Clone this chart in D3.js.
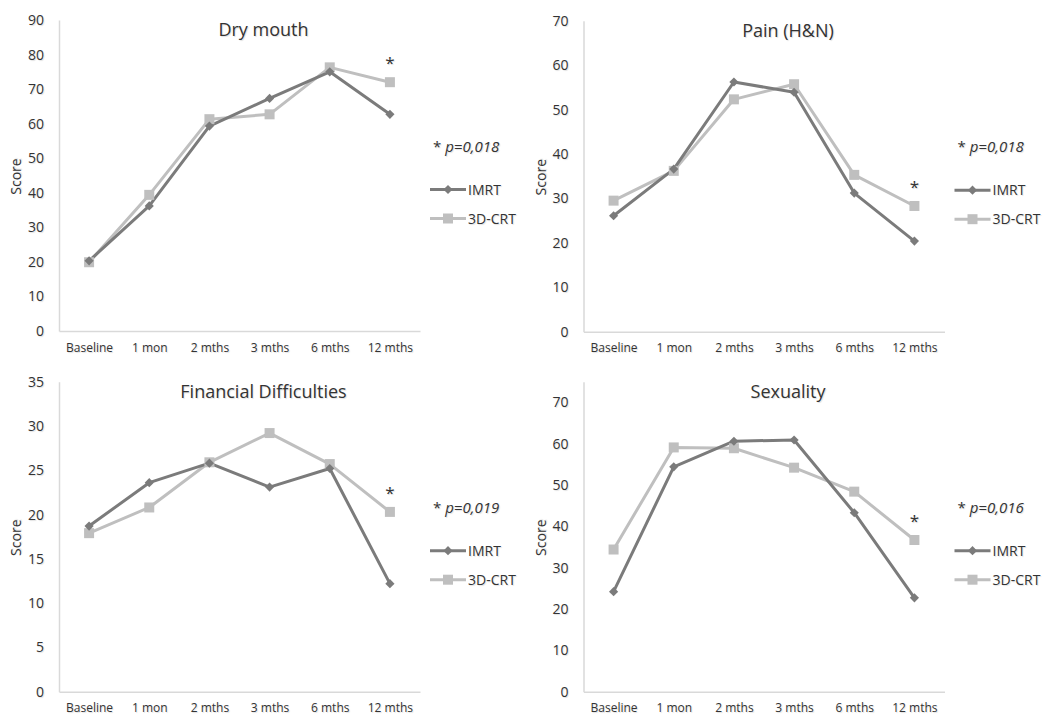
<!DOCTYPE html>
<html>
<head>
<meta charset="utf-8">
<script src="https://cdn.jsdelivr.net/npm/d3@7"></script>
<style>
  body { margin: 0; background: #fff; }
  svg text { font-family: "Open Sans", "Noto Sans", sans-serif; text-shadow: 1px 1px 1px rgba(0,0,0,0.12); }
</style>
</head>
<body>
<div id="chart"></div>
<script>
// Zaman noktaları
const categories = ['Baseline', '1 mon', '2 mths', '3 mths', '6 mths', '12 mths'];
const seriesNames = ['IMRT', '3D-CRT'];

// Dry mouth
const dryMouthIMRT = [20.3, 36.2, 59.3, 67.3, 75.0, 62.7];
const dryMouth3D = [19.9, 39.4, 61.3, 62.7, 76.3, 72.0];

// Pain (H&N)
const painIMRT = [26.1, 36.6, 56.2, 53.9, 31.2, 20.4];
const pain3D = [29.5, 36.2, 52.3, 55.7, 35.3, 28.3];

// Financial Difficulties
const financeIMRT = [18.7, 23.6, 25.8, 23.1, 25.2, 12.2];
const finance3D = [17.9, 20.8, 25.9, 29.2, 25.7, 20.3];

// Sexuality
const sexIMRT = [24.2, 54.4, 60.6, 60.9, 43.3, 22.7];
const sex3D = [34.4, 59.1, 58.9, 54.2, 48.4, 36.7];

// Panel başlıkları, p değerleri, eksen ayarları
const titles = ['Dry mouth', 'Pain (H&N)', 'Financial Difficulties', 'Sexuality'];
const pValues = ['p=0,018', 'p=0,018', 'p=0,019', 'p=0,016'];
const yMax = [90, 70, 35, 75];
const yTicks = [
  [0, 10, 20, 30, 40, 50, 60, 70, 80, 90],
  [0, 10, 20, 30, 40, 50, 60, 70],
  [0, 5, 10, 15, 20, 25, 30, 35],
  [0, 10, 20, 30, 40, 50, 60, 70]
];

const width = 1045;
const height = 717;

const colors = { 'IMRT': '#7b7b7b', '3D-CRT': '#bfbfbf' };

const svg = d3.select('#chart')
  .append('svg')
  .attr('width', width)
  .attr('height', height);

// Panel yerleşimi
const panels = [
  { left: 59, top: 20, bottom: 331, titleY: 36, series: [dryMouthIMRT, dryMouth3D] },
  { left: 583.5, top: 20.7, bottom: 331.7, titleY: 37, series: [painIMRT, pain3D] },
  { left: 59, top: 381.7, bottom: 691.7, titleY: 398, series: [financeIMRT, finance3D] },
  { left: 583.5, top: 381.7, bottom: 691.7, titleY: 398, series: [sexIMRT, sex3D] }
];
const plotW = 361;

panels.forEach((p, i) => {
  const g = svg.append('g');

  const x = d3.scalePoint()
    .domain(categories)
    .range([p.left, p.left + plotW])
    .padding(0.5);

  const y = d3.scaleLinear()
    .domain([0, yMax[i]])
    .range([p.bottom, p.top]);

  // Y ekseni
  const yAxis = g.append('g')
    .attr('transform', `translate(${p.left},0)`)
    .call(d3.axisLeft(y).tickValues(yTicks[i]).tickSize(0).tickPadding(15));
  yAxis.select('.domain').attr('stroke', '#d9d9d9').attr('stroke-width', 1.5);
  yAxis.selectAll('text')
    .attr('fill', '#333')
    .style('font-size', '14px');

  // X ekseni
  const xAxis = g.append('g')
    .attr('transform', `translate(0,${p.bottom})`)
    .call(d3.axisBottom(x).tickSize(0).tickPadding(12));
  xAxis.select('.domain').attr('stroke', '#d9d9d9').attr('stroke-width', 1.5);
  xAxis.selectAll('text')
    .attr('fill', '#333')
    .style('font-size', '12px');

  // Başlık
  g.append('text')
    .attr('x', p.left + plotW / 2 + 24)
    .attr('y', p.titleY)
    .attr('text-anchor', 'middle')
    .attr('fill', '#333')
    .style('font-size', '18px')
    .text(titles[i]);

  // Score etiketi
  g.append('text')
    .attr('transform', `translate(${p.left - 38},${(p.top + p.bottom) / 2 + 1}) rotate(-90)`)
    .attr('text-anchor', 'middle')
    .attr('fill', '#333')
    .style('font-size', '14px')
    .text('Score');

  // Seriler
  const line = d3.line()
    .x((d, k) => x(categories[k]))
    .y(d => y(d));

  // önce açık renk, sonra koyu çizilir
  [1, 0].forEach(s => {
    const vals = p.series[s];
    const name = seriesNames[s];
    g.append('path')
      .datum(vals)
      .attr('fill', 'none')
      .attr('stroke', colors[name])
      .attr('stroke-width', 3)
      .attr('stroke-linejoin', 'round')
      .attr('d', line);
  });
  [1, 0].forEach(s => {
    const vals = p.series[s];
    const name = seriesNames[s];
    g.append('g')
      .selectAll('path')
      .data(vals)
      .enter()
      .append('path')
      .attr('d', d3.symbol().type(d3.symbolSquare).size(s === 0 ? 42 : 100)())
      .attr('transform', (d, k) => `translate(${x(categories[k])},${y(d)}) rotate(${s === 0 ? 45 : 0})`)
      .attr('fill', colors[name]);
  });

  // Anlamlılık yıldızı (12 mths üstünde)
  const last = categories.length - 1;
  const topVal = Math.max(p.series[0][last], p.series[1][last]);
  g.append('text')
    .attr('x', x(categories[last]))
    .attr('y', y(topVal) - 13)
    .attr('text-anchor', 'middle')
    .attr('fill', '#333')
    .style('font-size', '17px')
    .text('*');

  // p değeri
  const lx = p.left + plotW;
  g.append('text')
    .attr('x', lx + 13)
    .attr('y', (p.top + p.bottom) / 2 - 24)
    .attr('fill', '#333')
    .style('font-size', '15px')
    .html(`* <tspan font-style="italic">${pValues[i]}</tspan>`);

  // Lejant
  seriesNames.forEach((name, s) => {
    const ly = (p.top + p.bottom) / 2 + 14 + s * 29;
    g.append('line')
      .attr('x1', lx + 10).attr('x2', lx + 46)
      .attr('y1', ly).attr('y2', ly)
      .attr('stroke', colors[name])
      .attr('stroke-width', 3);
    g.append('path')
      .attr('d', d3.symbol().type(d3.symbolSquare).size(s === 0 ? 42 : 100)())
      .attr('transform', `translate(${lx + 28},${ly}) rotate(${s === 0 ? 45 : 0})`)
      .attr('fill', colors[name]);
    g.append('text')
      .attr('x', lx + 48)
      .attr('y', ly + 5)
      .attr('fill', '#333')
      .style('font-size', '14px')
      .text(name);
  });
});
</script>
</body>
</html>
